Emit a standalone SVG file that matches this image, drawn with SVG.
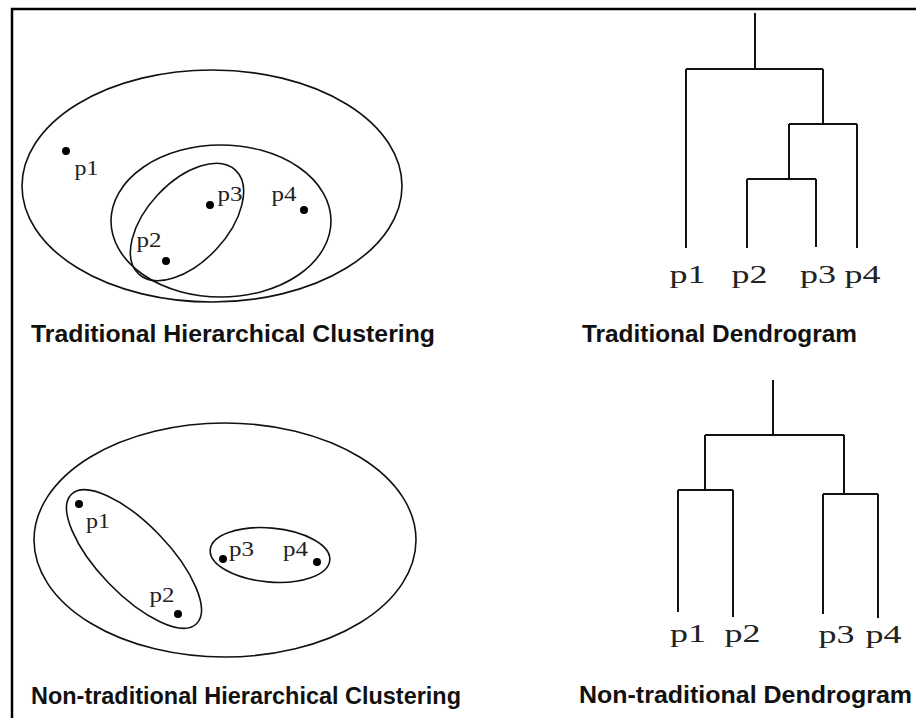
<svg xmlns="http://www.w3.org/2000/svg" width="916" height="718" viewBox="0 0 916 718">
<style>
.frame{fill:none;stroke:#000;stroke-width:2.5}
.ell{fill:none;stroke:#111;stroke-width:1.6}
.dot{fill:#000}
.pl{font-family:"Liberation Serif","Times New Roman",serif;font-size:22px;fill:#222}
.dl{font-family:"Liberation Serif","Times New Roman",serif;font-size:26px;fill:#222}
.ttl{font-family:"Liberation Sans",Arial,sans-serif;font-weight:bold;font-size:23.5px;fill:#111}
.br{fill:none;stroke:#111;stroke-width:2}
</style>
<rect width="916" height="718" fill="#fff"/>
<path class="frame" d="M12,718 V9 H916"/>

<g id="traditional-clustering">
  <ellipse class="ell" cx="212" cy="186" rx="190" ry="116"/>
  <ellipse class="ell" cx="221" cy="221" rx="110" ry="76"/>
  <ellipse class="ell" cx="187" cy="222" rx="71" ry="40" transform="rotate(-47 187 222)"/>
  <circle class="dot" cx="66" cy="151" r="4"/>
  <circle class="dot" cx="166" cy="261" r="4"/>
  <circle class="dot" cx="210" cy="205" r="4"/>
  <circle class="dot" cx="304" cy="210" r="4"/>
  <text class="pl" x="74.5" y="175" textLength="24" lengthAdjust="spacingAndGlyphs">p1</text>
  <text class="pl" x="136.5" y="247" textLength="25" lengthAdjust="spacingAndGlyphs">p2</text>
  <text class="pl" x="217.5" y="201" textLength="25" lengthAdjust="spacingAndGlyphs">p3</text>
  <text class="pl" x="271.5" y="201" textLength="25" lengthAdjust="spacingAndGlyphs">p4</text>
  <text class="ttl" x="31" y="342" textLength="404" lengthAdjust="spacingAndGlyphs">Traditional Hierarchical Clustering</text>
</g>

<g id="traditional-dendrogram">
  <path class="br" d="M755,13 V69 M686,69 H823 M686,69 V248 M823,69 V124 M789,124 H857 M857,124 V248 M789,124 V179 M747,179 H816 M747,179 V248 M816,179 V247"/>
  <text class="dl" x="669.5" y="283" textLength="36" lengthAdjust="spacingAndGlyphs">p1</text>
  <text class="dl" x="731.5" y="283" textLength="36" lengthAdjust="spacingAndGlyphs">p2</text>
  <text class="dl" x="800" y="283" textLength="36" lengthAdjust="spacingAndGlyphs">p3</text>
  <text class="dl" x="844.5" y="283" textLength="36" lengthAdjust="spacingAndGlyphs">p4</text>
  <text class="ttl" x="582" y="342" textLength="275" lengthAdjust="spacingAndGlyphs">Traditional Dendrogram</text>
</g>

<g id="nontraditional-clustering">
  <ellipse class="ell" cx="225" cy="540" rx="191" ry="117"/>
  <ellipse class="ell" cx="134" cy="559" rx="90" ry="35" transform="rotate(46 134 559)"/>
  <ellipse class="ell" cx="270" cy="555" rx="60" ry="27" transform="rotate(5 270 555)"/>
  <circle class="dot" cx="79" cy="504" r="4"/>
  <circle class="dot" cx="178" cy="614" r="4"/>
  <circle class="dot" cx="223" cy="559" r="4"/>
  <circle class="dot" cx="317" cy="562" r="4"/>
  <text class="pl" x="86" y="528" textLength="24" lengthAdjust="spacingAndGlyphs">p1</text>
  <text class="pl" x="149.5" y="602" textLength="25" lengthAdjust="spacingAndGlyphs">p2</text>
  <text class="pl" x="229" y="556" textLength="25" lengthAdjust="spacingAndGlyphs">p3</text>
  <text class="pl" x="283" y="556" textLength="25" lengthAdjust="spacingAndGlyphs">p4</text>
  <text class="ttl" x="31" y="704" textLength="430" lengthAdjust="spacingAndGlyphs">Non-traditional Hierarchical Clustering</text>
</g>

<g id="nontraditional-dendrogram">
  <path class="br" d="M773,380 V435 M705,435 H844 M705,435 V490 M678,490 H733 M678,490 V612 M733,490 V617 M844,435 V494 M823,494 H878 M823,494 V614 M878,494 V618"/>
  <text class="dl" x="670" y="642" textLength="36" lengthAdjust="spacingAndGlyphs">p1</text>
  <text class="dl" x="724.5" y="642" textLength="36" lengthAdjust="spacingAndGlyphs">p2</text>
  <text class="dl" x="818.5" y="643" textLength="36" lengthAdjust="spacingAndGlyphs">p3</text>
  <text class="dl" x="865.5" y="643" textLength="36" lengthAdjust="spacingAndGlyphs">p4</text>
  <text class="ttl" x="579" y="703" textLength="333" lengthAdjust="spacingAndGlyphs">Non-traditional Dendrogram</text>
</g>
</svg>
